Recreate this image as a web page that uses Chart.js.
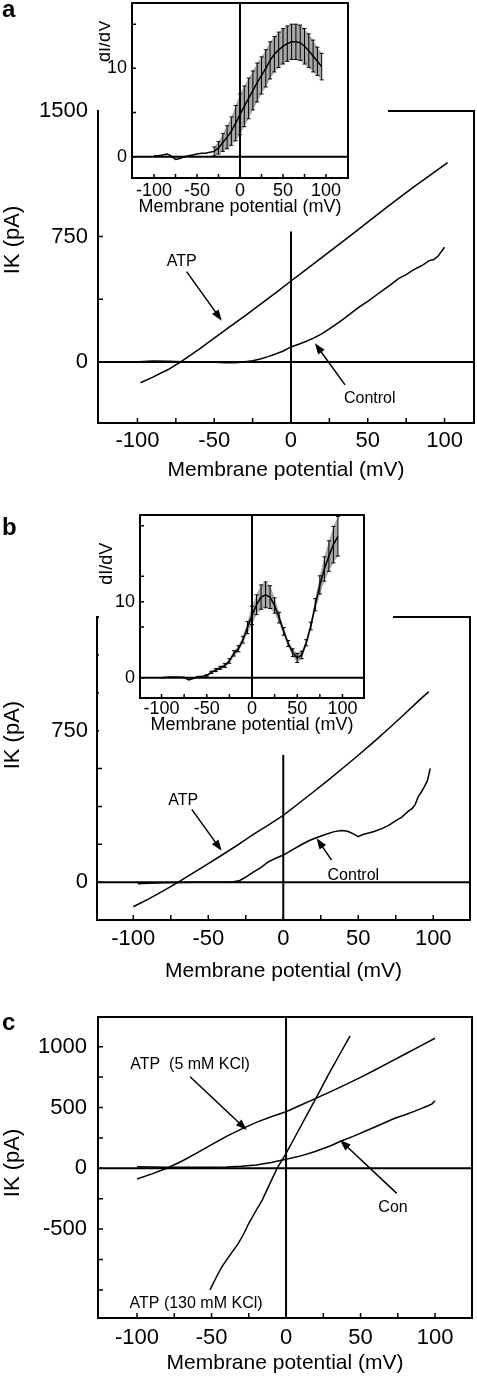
<!DOCTYPE html>
<html>
<head>
<meta charset="utf-8">
<script src="https://cdn.jsdelivr.net/npm/chart.js@4.4.1/dist/chart.umd.min.js"></script>
<style>
  body { margin: 0; background: #fff; }
  #page { position: relative; width: 477px; height: 1380px; overflow: hidden; font-family: "Liberation Sans", Arial, sans-serif; }
  canvas { position: absolute; }
  .tag { position: absolute; left: 2px; font-weight: bold; font-size: 24px; line-height: 24px; }
</style>
</head>
<body>
<div id="page">
  <canvas id="mainA" style="left:0px;top:0px" width="477" height="483"></canvas>
  <canvas id="insetA" style="left:99px;top:0px" width="289" height="218"></canvas>
  <canvas id="mainB" style="left:0px;top:480px" width="477" height="504"></canvas>
  <canvas id="insetB" style="left:99px;top:500px" width="294" height="236"></canvas>
  <canvas id="mainC" style="left:0px;top:1000px" width="477" height="376"></canvas>
  <div class="tag" style="top:-3px">a</div>
  <div class="tag" style="top:515px">b</div>
  <div class="tag" style="top:1010px">c</div>
</div>
<script>
// shared tick labels (mV)
const xTicks = [-100, -50, 0, 50, 100];
const xMinor = [-75, -25, 25, 75];

// panel a, main I-V curves
const aAtpV = [-98, -90, -80, -72, -60, -50, -40, -30, -20, -10, 0, 10, 20, 30, 40, 50, 60, 70, 80, 90, 102];
const aAtpI = [-124, -90, -45, 0, 76, 143, 210, 276, 344, 413, 484, 553, 624, 694, 764, 836, 908, 978, 1046, 1112, 1192];
const aCtrlV = [-99, -90, -80, -70, -60, -50, -42, -36, -30, -25, -20, -15, -10, -5, 0, 5, 10, 15, 20, 25, 30, 35, 40, 45, 50, 55, 60, 65, 70, 75, 80, 85, 90, 93, 96, 98, 100];
const aCtrlI = [2, 6, 4, 2, 0, -2, -5, -4, 2, 8, 18, 32, 48, 66, 90, 106, 124, 144, 168, 198, 230, 262, 298, 332, 362, 396, 430, 462, 498, 522, 552, 575, 606, 612, 635, 660, 686];
const aYTicks = [0, 750, 1500];
const aYMinor = [375, 1125];

// panel a, inset dI/dV (mean and error)
const iaV = [-100, -95, -90, -85, -80, -75, -70, -65, -60, -55, -50, -45, -40, -35, -30, -25, -20, -15, -10, -5,
  0, 5, 10, 15, 20, 25, 30, 35, 40, 45, 50, 55, 60, 65, 70, 75, 80, 85, 90, 95];
const iaMean = [0.1, 0.1, 0.2, 0.3, 0.1, -0.3, -0.2, 0.0, 0.1, 0.2, 0.3, 0.4, 0.4, 0.5, 0.6, 1.0, 1.6, 2.2, 2.9, 3.8,
  4.8, 5.7, 6.6, 7.5, 8.4, 9.2, 10.0, 10.9, 11.6, 12.1, 12.5, 12.8, 13.0, 13.0, 12.9, 12.5, 12.0, 11.4, 10.8, 10.2];
const iaErr = [null, null, null, null, null, null, null, null, null, null, null, null, null, null, 0.5, 0.7, 1.0, 1.3, 1.6, 2.0,
  2.3, 2.3, 2.3, 2.2, 2.2, 2.1, 2.1, 2.1, 2.0, 2.0, 2.0, 2.0, 2.0, 2.0, 2.0, 2.0, 1.9, 1.8, 1.6, 1.5];
const iaYTicks = [0, 10];
const iaYMinor = [5, 15];

// panel b, main I-V curves
const bAtpV = [-100, -90, -80, -70, -60, -50, -40, -30, -20, -10, 0, 10, 20, 30, 40, 50, 60, 70, 80, 90, 97];
const bAtpI = [-122, -84, -43, 0, 46, 92, 138, 186, 236, 282, 330, 388, 446, 505, 566, 628, 692, 758, 826, 896, 943];
const bCtrlV = [-97, -90, -80, -70, -60, -50, -40, -33, -29, -25, -20, -15, -10, -5, 0, 6, 12, 17, 22, 28, 34, 39, 43, 47, 50, 53, 57, 61, 66, 70, 74, 79, 83, 86, 88, 90, 92, 94, 96, 98];
const bCtrlI = [-8, -5, -3, -2, -1, 0, 0, 2, 8, 25, 50, 72, 100, 118, 134, 160, 185, 205, 220, 236, 250, 256, 252, 238, 225, 236, 243, 252, 266, 280, 299, 322, 349, 365, 385, 423, 445, 472, 500, 563];
const bYTicks = [0, 750];
const bYMinor = [187.5, 375, 562.5, 937.5, 1125];

// panel b, inset dI/dV
const ibV = iaV;
const ibMean = [0, 0.05, 0.1, 0.1, 0.1, 0.05, -0.3, -0.1, 0.15, 0.2, 0.3, 0.7, 1.0, 1.3, 1.6, 2.2, 3.2, 3.8, 5.0, 6.6,
  8.2, 9.6, 10.6, 10.9, 10.6, 9.5, 7.9, 6.1, 4.5, 3.3, 2.6, 3.0, 4.6, 6.8, 9.6, 12.2, 14.3, 16.0, 17.5, 18.6];
const ibErr = [null, null, null, null, null, null, null, null, null, null, 0.1, 0.15, 0.2, 0.2, 0.25, 0.3, 0.35, 0.4, 0.45, 0.8,
  1.2, 1.3, 1.6, 1.7, 1.5, 1.0, 0.7, 0.5, 0.4, 0.5, 0.6, 0.5, 0.4, 0.5, 0.8, 1.2, 1.6, 2.0, 2.4, 2.6];
const ibYTicks = [0, 10];
const ibYMinor = [6.67, 13.33, 20];

// panel c
const cAtp5V = [-100, -90, -80, -70, -60, -50, -40, -30, -20, -10, 0, 10, 20, 30, 40, 50, 60, 70, 80, 90, 100];
const cAtp5I = [-88, -46, 0, 58, 125, 195, 262, 322, 378, 424, 465, 520, 575, 630, 688, 748, 810, 875, 940, 1005, 1069];
const cConV = [-100, -90, -80, -70, -60, -50, -40, -30, -20, -10, 0, 10, 20, 30, 37, 45, 55, 65, 73, 80, 86, 91, 95, 98, 100];
const cConI = [12, 10, 9, 8, 8, 9, 11, 16, 28, 48, 74, 102, 140, 185, 224, 262, 315, 368, 411, 440, 468, 493, 512, 530, 556];
const cAtp130V = [-51, -47, -43, -38, -32, -28, -25, -20, -16, -11, -6, 0, 7, 15, 22, 28, 35, 43];
const cAtp130I = [-1000, -900, -809, -720, -617, -530, -452, -345, -261, -130, 0, 123, 280, 462, 620, 760, 915, 1088];
const cYTicks = [-500, 0, 500, 1000];
const cYMinor = [-1000, -750, -250, 250, 750];

Chart.defaults.font.family = '"Liberation Sans", Arial, sans-serif';
Chart.defaults.color = '#000';

function pts(xs, ys) {
  return xs.map((x, i) => ({ x: x, y: ys[i] }));
}

function line(data, width) {
  return { data: data, borderColor: '#000', borderWidth: width, pointRadius: 0, fill: false };
}

function band(xs, mean, err, sign) {
  const out = [];
  xs.forEach((x, i) => {
    if (err[i] != null) out.push({ x: x, y: mean[i] + sign * err[i] });
  });
  return out;
}

// frame, inward ticks, error bars, notes, arrows and the side title
function decor(spec) {
  return {
    id: 'decor',
    beforeDraw(chart) {
      if (!spec.inset) return;
      // white backing for the inset: full width above the plot bottom, then only under the labels
      const ctx = chart.ctx, area = chart.chartArea;
      ctx.save();
      ctx.fillStyle = '#fff';
      ctx.fillRect(0, 0, chart.width, area.bottom + 8);
      ctx.fillRect(0, area.bottom, area.right + 2, chart.height - area.bottom);
      ctx.restore();
    },
    afterDatasetsDraw(chart) {
      const ctx = chart.ctx;
      const area = chart.chartArea;
      const X = v => chart.scales.x.getPixelForValue(v);
      const Y = v => chart.scales.y.getPixelForValue(v);
      ctx.save();
      ctx.strokeStyle = '#000';
      ctx.fillStyle = '#000';

      chart.data.datasets.forEach(ds => {
        if (!ds.errs) return;
        ctx.lineWidth = 1;
        ctx.beginPath();
        ds.data.forEach((p, i) => {
          const e = ds.errs[i];
          if (e == null) return;
          const px = X(p.x), top = Y(p.y + e), bot = Y(p.y - e);
          ctx.moveTo(px, top); ctx.lineTo(px, bot);
          ctx.moveTo(px - 2, top); ctx.lineTo(px + 2, top);
          ctx.moveTo(px - 2, bot); ctx.lineTo(px + 2, bot);
        });
        ctx.stroke();
      });

      ctx.lineWidth = 2;
      ctx.strokeRect(area.left, area.top, area.right - area.left, area.bottom - area.top);

      ctx.lineWidth = 1.5;
      ctx.beginPath();
      spec.xTicks.forEach(v => { ctx.moveTo(X(v), area.bottom); ctx.lineTo(X(v), area.bottom - spec.tick); });
      spec.yTicks.forEach(v => { ctx.moveTo(area.left, Y(v)); ctx.lineTo(area.left + spec.tick, Y(v)); });
      ctx.stroke();

      ctx.font = '16px "Liberation Sans", Arial, sans-serif';
      ctx.textAlign = 'center';
      ctx.textBaseline = 'middle';
      (spec.notes || []).forEach(n => ctx.fillText(n.text, X(n.x), Y(n.y)));

      (spec.arrows || []).forEach(a => {
        const x1 = X(a.from[0]), y1 = Y(a.from[1]);
        const x2 = X(a.to[0]), y2 = Y(a.to[1]);
        const ang = Math.atan2(y2 - y1, x2 - x1);
        const c = Math.cos(ang), s = Math.sin(ang);
        ctx.lineWidth = 1.5;
        ctx.beginPath();
        ctx.moveTo(x1, y1);
        ctx.lineTo(x2 - c * 8, y2 - s * 8);
        ctx.stroke();
        ctx.beginPath();
        ctx.moveTo(x2, y2);
        ctx.lineTo(x2 - c * 11 + s * 4, y2 - s * 11 - c * 4);
        ctx.lineTo(x2 - c * 11 - s * 4, y2 - s * 11 + c * 4);
        ctx.closePath();
        ctx.fill();
      });

      ctx.font = spec.yTitleSize + 'px "Liberation Sans", Arial, sans-serif';
      ctx.translate(spec.yTitleX, Y(spec.yTitleAt));
      ctx.rotate(-Math.PI / 2);
      ctx.fillText(spec.yTitle, 0, 0);
      ctx.restore();
    }
  };
}

function opts(s) {
  return {
    responsive: false,
    animation: false,
    devicePixelRatio: 1,
    layout: { padding: { top: s.padTop, right: s.padRight, left: 0, bottom: 0 } },
    plugins: { legend: { display: false }, tooltip: { enabled: false } },
    elements: { point: { radius: 0 }, line: { tension: 0 } },
    scales: {
      x: {
        type: 'linear', min: s.xRange[0], max: s.xRange[1],
        grid: { display: false, drawTicks: false }, border: { display: false },
        afterBuildTicks: sc => { sc.ticks = xTicks.map(v => ({ value: v })); },
        afterFit: sc => { sc.height = s.xHeight; sc.paddingLeft = 0; sc.paddingRight = 0; },
        ticks: { color: '#000', font: { size: s.tickSize }, padding: s.xPad, autoSkip: false, maxRotation: 0, callback: v => String(v) },
        title: { display: true, text: 'Membrane potential (mV)', color: '#000', font: { size: s.titleSize }, padding: 0 }
      },
      y: {
        type: 'linear', min: s.yRange[0], max: s.yRange[1],
        grid: { display: false, drawTicks: false }, border: { display: false },
        afterBuildTicks: sc => { sc.ticks = s.yLabels.map(v => ({ value: v })); },
        afterFit: sc => { sc.width = s.yWidth; sc.paddingTop = 0; sc.paddingBottom = 0; },
        ticks: { color: '#000', font: { size: s.tickSize }, padding: s.yPad, autoSkip: false, callback: v => String(v) }
      }
    }
  };
}

// panel a
const aX = [-125.7, 119.2], aY = [-364.5, 1500];
new Chart(document.getElementById('mainA'), {
  type: 'line',
  data: { datasets: [
    line(pts(aAtpV, aAtpI), 1.5),
    line(pts(aCtrlV, aCtrlI), 1.5),
    line([{ x: aX[0], y: 0 }, { x: aX[1], y: 0 }], 2),
    line([{ x: 0, y: aY[0] }, { x: 0, y: 780 }], 2)
  ] },
  options: opts({ xRange: aX, yRange: aY, yLabels: aYTicks, padTop: 111, padRight: 3, yWidth: 98, xHeight: 60,
    tickSize: 22, titleSize: 21, xPad: 5, yPad: 10 }),
  plugins: [decor({
    xTicks: xTicks.concat(xMinor), yTicks: aYTicks.concat(aYMinor), tick: 5,
    notes: [{ text: 'ATP', x: -71.2, y: 600 }, { text: 'Control', x: 51.3, y: -221 }],
    arrows: [{ from: [-68, 540], to: [-45.1, 247] }, { from: [35.2, -137], to: [15.6, 112] }],
    yTitle: 'IK (pA)', yTitleSize: 22, yTitleX: 13, yTitleAt: 729
  })]
});

const iaX = [-125.6, 125.6], iaY = [-2.41, 17.4];
new Chart(document.getElementById('insetA'), {
  type: 'line',
  data: { datasets: [
    Object.assign(line(pts(iaV, iaMean), 1.5), { errs: iaErr }),
    line([{ x: iaX[0], y: 0 }, { x: iaX[1], y: 0 }], 2),
    line([{ x: 0, y: iaY[0] }, { x: 0, y: iaY[1] }], 2),
    { data: band(iaV, iaMean, iaErr, 1), borderWidth: 0, pointRadius: 0, fill: false },
    { data: band(iaV, iaMean, iaErr, -1), borderWidth: 0, pointRadius: 0, fill: '-1', backgroundColor: '#a8a8a8' }
  ] },
  options: opts({ xRange: iaX, yRange: iaY, yLabels: iaYTicks, padTop: 3, padRight: 40, yWidth: 33, xHeight: 40,
    tickSize: 18, titleSize: 18, xPad: 2, yPad: 5 }),
  plugins: [decor({
    inset: true,
    xTicks: xTicks.concat(xMinor), yTicks: iaYTicks.concat(iaYMinor), tick: 4,
    yTitle: 'dI/dV', yTitleSize: 18, yTitleX: 6.5, yTitleAt: 13.1
  })]
});

// panel b
const bX = [-124.2, 124.5], bY = [-187.5, 1312.5];
new Chart(document.getElementById('mainB'), {
  type: 'line',
  data: { datasets: [
    line(pts(bAtpV, bAtpI), 1.5),
    line(pts(bCtrlV, bCtrlI), 1.5),
    line([{ x: bX[0], y: 0 }, { x: bX[1], y: 0 }], 2),
    line([{ x: 0, y: bY[0] }, { x: 0, y: 630 }], 2)
  ] },
  options: opts({ xRange: bX, yRange: bY, yLabels: bYTicks, padTop: 137, padRight: 7, yWidth: 97, xHeight: 64,
    tickSize: 22, titleSize: 21, xPad: 6, yPad: 9 }),
  plugins: [decor({
    xTicks: xTicks.concat(xMinor), yTicks: bYTicks.concat(bYMinor), tick: 5,
    notes: [{ text: 'ATP', x: -66.7, y: 406 }, { text: 'Control', x: 46.7, y: 31 }],
    arrows: [{ from: [-61, 360], to: [-41.1, 155] }, { from: [32.2, 109], to: [22.2, 217] }],
    yTitle: 'IK (pA)', yTitleSize: 22, yTitleX: 13, yTitleAt: 728
  })]
});

const ibX = [-123.8, 123.8], ibY = [-2.67, 21.4];
new Chart(document.getElementById('insetB'), {
  type: 'line',
  data: { datasets: [
    Object.assign(line(pts(ibV, ibMean), 1.5), { errs: ibErr }),
    line([{ x: ibX[0], y: 0 }, { x: ibX[1], y: 0 }], 2),
    line([{ x: 0, y: ibY[0] }, { x: 0, y: ibY[1] }], 2),
    { data: band(ibV, ibMean, ibErr, 1), borderWidth: 0, pointRadius: 0, fill: false },
    { data: band(ibV, ibMean, ibErr, -1), borderWidth: 0, pointRadius: 0, fill: '-1', backgroundColor: '#a8a8a8' }
  ] },
  options: opts({ xRange: ibX, yRange: ibY, yLabels: ibYTicks, padTop: 15, padRight: 29, yWidth: 41, xHeight: 38,
    tickSize: 18, titleSize: 18, xPad: 0, yPad: 5 }),
  plugins: [decor({
    inset: true,
    xTicks: xTicks.concat(xMinor), yTicks: ibYTicks.concat(ibYMinor), tick: 4,
    yTitle: 'dI/dV', yTitleSize: 18, yTitleX: 8, yTitleAt: 15
  })]
});

// panel c
const cX = [-126.2, 124.8], cY = [-1231, 1244];
new Chart(document.getElementById('mainC'), {
  type: 'line',
  data: { datasets: [
    line(pts(cAtp5V, cAtp5I), 1.5),
    line(pts(cConV, cConI), 1.5),
    line(pts(cAtp130V, cAtp130I), 1.5),
    line([{ x: cX[0], y: 0 }, { x: cX[1], y: 0 }], 2),
    line([{ x: 0, y: cY[0] }, { x: 0, y: cY[1] }], 2)
  ] },
  options: opts({ xRange: cX, yRange: cY, yLabels: cYTicks, padTop: 17, padRight: 5, yWidth: 98, xHeight: 58,
    tickSize: 22, titleSize: 21, xPad: 7, yPad: 11 }),
  plugins: [decor({
    xTicks: xTicks.concat(xMinor), yTicks: cYTicks.concat(cYMinor), tick: 5,
    notes: [{ text: 'ATP  (5 mM KCl)', x: -64.4, y: 849 }, { text: 'Con', x: 71.8, y: -326 },
      { text: 'ATP (130 mM KCl)', x: -60.4, y: -1111 }],
    arrows: [{ from: [-64.4, 753], to: [-26.4, 315] }, { from: [74.3, -206], to: [36.2, 233] }],
    yTitle: 'IK (pA)', yTitleSize: 22, yTitleX: 13, yTitleAt: 44
  })]
});
</script>
</body>
</html>
